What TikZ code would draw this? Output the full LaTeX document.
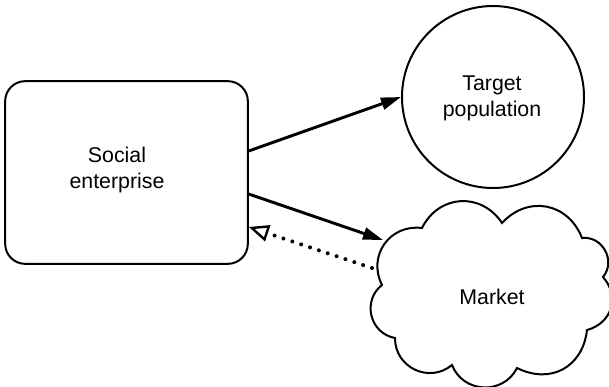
\documentclass[tikz,border=0pt]{standalone}
\usepackage{fontspec}
\setmainfont{Liberation Sans}
\usetikzlibrary{arrows.meta,calc}
\begin{document}
\begin{tikzpicture}[x=0.75pt,y=-0.75pt,
  shapeline/.style={draw, line width=1.5pt},
  lbl/.style={font=\fontsize{16}{19.5}\selectfont, align=center, inner sep=0pt},
  flow/.style={line width=2.2pt, -{Triangle[length=15pt,width=9pt]}},
  feedback/.style={line width=3pt, line cap=round, dash pattern=on 0pt off 7pt,
    -{Triangle[open,length=15pt,width=12.5pt,line width=1.8pt]}},
  puff/.style={bend left=#1, looseness=1.2}]
\useasboundingbox (0,0) rectangle (609,386);
% Social enterprise
\node[shapeline, rounded corners=15pt, minimum width=182pt, minimum height=137pt, inner sep=0pt] (se) at (126.5,172.5) {};
\node[lbl] (setext) at (117,170) {Social\\enterprise};
% Target population
\node[shapeline, circle, minimum size=136.5pt, inner sep=0pt] (tp) at (493,97) {};
\node[lbl] (tptext) at (492,98) {Target\\population};
% Market (cloud)
\draw[line width=1.5pt, line join=miter]
  (382,285) to[puff=62] (422,228) to[puff=60] (502,223) to[puff=58] (582,238)
  to[puff=68] (603,277) to[puff=58] (587,330) to[puff=55] (517,368)
  to[puff=66] (452,365) to[puff=65] (395,338) to[puff=66] (382,285) -- cycle;
\node[lbl] (mktext) at (492,297) {Market};
\coordinate (mkin) at (383,240);
\coordinate (mkout) at (372,268);
% connectors
\draw[flow] (se.10.9) -- (tp.west);
\draw[flow] (se.-10) -- (mkin);
\draw[feedback] (mkout) -- (se.-24);
\end{tikzpicture}
\end{document}
